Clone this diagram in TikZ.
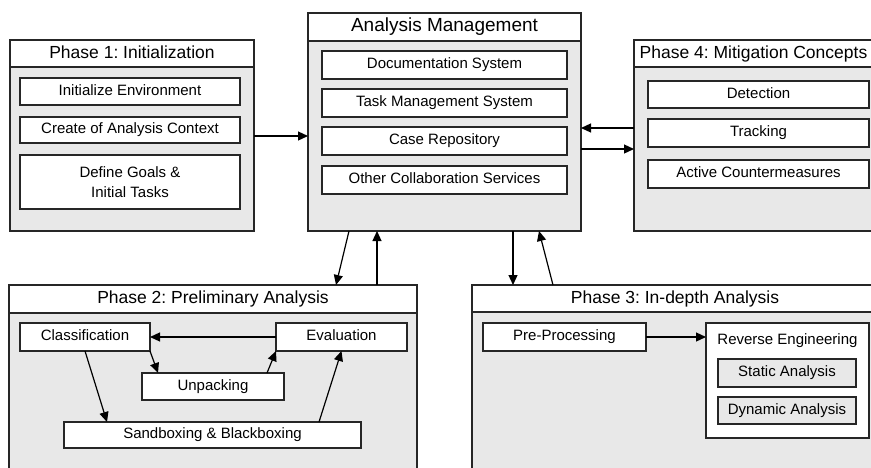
\documentclass[tikz,border=0pt]{standalone}
\usepackage{fontspec}
\setmainfont{Liberation Sans}
\usetikzlibrary{positioning,arrows.meta}
\definecolor{boxgray}{HTML}{E8E8E8}
\definecolor{linegray}{HTML}{262626}
\frenchspacing

\begin{document}
\begin{tikzpicture}[x=1pt, y=-1pt, node distance=12pt,
  every node/.style={inner sep=0pt, outer sep=0pt, align=center},
  phasetitle/.style={draw=linegray, line width=1.3pt, fill=white, anchor=north west, minimum height=27pt, text height=12.5pt, text depth=3.5pt, font=\fontsize{17.5}{20}\selectfont},
  phasebody/.style={draw=linegray, line width=1.3pt, fill=boxgray, anchor=north west},
  itembox/.style={draw=linegray, line width=1.2pt, fill=white, minimum height=27pt, font=\fontsize{15}{20}\selectfont},
  item/.style={itembox, text height=10.8pt, text depth=3pt},
  flow/.style={-{Triangle[length=10pt,width=9pt]}, draw=black, line width=1.2pt}]
\useasboundingbox (0,0) rectangle (871,467);
\clip (0,0) rectangle (871,467);
\node[phasetitle, minimum width=244pt] (p1t) at (10,40) {Phase 1: Initialization};
\node[phasebody, minimum width=244pt, minimum height=164pt] (p1) at (p1t.south west) {};
\node[item, minimum width=220pt, anchor=north west] (env) at (20,78) {Initialize Environment};
\node[item, minimum width=220pt, minimum height=26pt, below=of env] (ctx) {Create of Analysis Context};
\node[itembox, minimum width=220pt, minimum height=54pt, below=of ctx] (goals) {Define Goals \&\\Initial Tasks};

\node[phasetitle, minimum width=273pt, minimum height=28pt, font=\fontsize{19}{22}\selectfont] (amt) at (308,13) {Analysis Management};
\node[phasebody, minimum width=273pt, minimum height=190pt] (am) at (amt.south west) {};
\node[item, minimum width=245pt, minimum height=28pt, anchor=north west] (docs) at (322,51) {Documentation System};
\node[item, minimum width=245pt, minimum height=28pt, below=10pt of docs] (tasks) {Task Management System};
\node[item, minimum width=245pt, minimum height=28pt, below=10pt of tasks] (cases) {Case Repository};
\node[item, minimum width=245pt, minimum height=28pt, below=11pt of cases] (collab) {Other Collaboration Services};

\node[phasetitle, minimum width=239pt] (p4t) at (634,40) {Phase 4: Mitigation Concepts};
\node[phasebody, minimum width=239pt, minimum height=164pt] (p4) at (p4t.south west) {};
\node[item, minimum width=221pt, anchor=north west] (detect) at (648,81) {Detection};
\node[item, minimum width=221pt, minimum height=28pt, below=11pt of detect] (track) {Tracking};
\node[item, minimum width=221pt, minimum height=28pt, below=13pt of track] (counter) {Active Countermeasures};

\node[phasetitle, minimum width=408pt, minimum height=28pt] (p2t) at (9,285) {Phase 2: Preliminary Analysis};
\node[phasebody, minimum width=408pt, minimum height=170pt] (p2) at (p2t.south west) {};
\node[item, minimum width=130pt, minimum height=28pt, anchor=north west] (class) at (20,323) {Classification};
\node[item, minimum width=131pt, minimum height=28pt, anchor=north west] (eval) at (276,323) {Evaluation};
\node[item, minimum width=142pt, anchor=north west] (unp) at (142,373) {Unpacking};
\node[item, minimum width=297pt, minimum height=26pt, anchor=north west] (sand) at (64,422) {Sandboxing \& Blackboxing};

\node[phasetitle, minimum width=406pt] (p3t) at (472,285) {Phase 3: In-depth Analysis};
\node[phasebody, minimum width=406pt, minimum height=170pt] (p3) at (p3t.south west) {};
\node[item, minimum width=163pt, minimum height=28pt, anchor=north west] (pre) at (483,323) {Pre-Processing};
\node[itembox, minimum width=163pt, minimum height=115pt, anchor=north west] (rev) at (706,323) {};
\node[font=\fontsize{15}{18}\selectfont, text height=10.8pt, text depth=3pt] (revlbl) at ([yshift=-18pt]rev.north) {Reverse Engineering};
\node[item, fill=boxgray, minimum width=138pt, minimum height=28pt, anchor=north west] (stat) at (718,359) {Static Analysis};
\node[item, fill=boxgray, minimum width=138pt, below=10pt of stat] (dyn) {Dynamic Analysis};

\draw[flow] ([yshift=13pt]p1.east) -- (am.west);
\draw[flow] ([yshift=21pt]p4.west) -- ([yshift=8pt]am.east);
\draw[flow] ([yshift=-13pt]am.east) -- (p4.west);
\draw[flow] ([xshift=-95.5pt]am.south) -- ([xshift=123pt]p2t.north);
\draw[flow] ([xshift=164pt]p2t.north) -- ([xshift=-67.5pt]am.south);
\draw[flow] ([xshift=68.5pt]am.south) -- ([xshift=-162pt]p3t.north);
\draw[flow] ([xshift=-122pt]p3t.north) -- ([xshift=94.5pt]am.south);
\draw[flow] (eval.west) -- (class.east);
\draw[flow] (class.south east) -- ([xshift=16pt]unp.north west);
\draw[flow] ([xshift=-17pt]unp.north east) -- (eval.south west);
\draw[flow] (class.south) -- ([xshift=43pt]sand.north west);
\draw[flow] ([xshift=-42pt]sand.north east) -- (eval.south);
\draw[flow] (pre.east) -- (pre.east -| rev.west);
\end{tikzpicture}
\end{document}
